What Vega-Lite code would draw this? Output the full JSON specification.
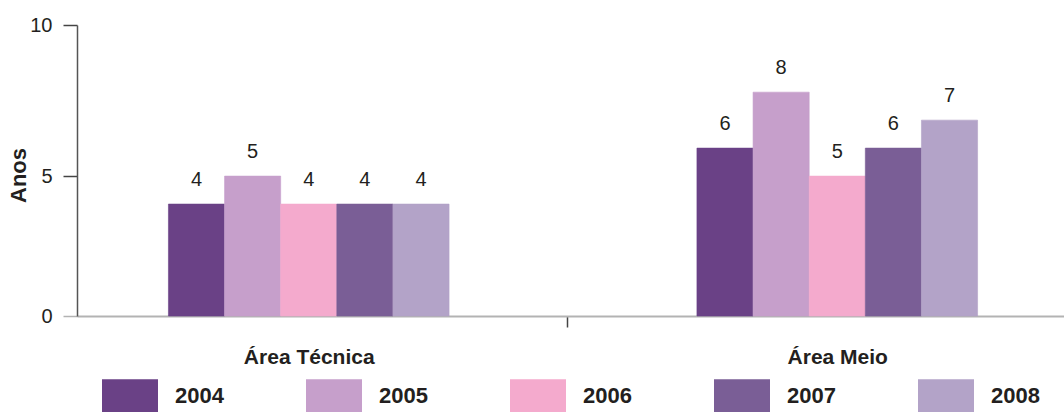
{
  "$schema": "https://vega.github.io/schema/vega-lite/v6.json",
  "width": 992,
  "height": 291,
  "autosize": {"type": "none"},
  "padding": {"left": 77, "top": 25, "right": 0, "bottom": 96},
  "background": "white",
  "config": {
    "view": {"stroke": null},
    "font": "Liberation Sans",
    "text": {"font": "Liberation Sans"}
  },
  "data": {
    "values": [
      {"area": "Área Técnica", "ano": "2004", "anos": 4},
      {"area": "Área Técnica", "ano": "2005", "anos": 5},
      {"area": "Área Técnica", "ano": "2006", "anos": 4},
      {"area": "Área Técnica", "ano": "2007", "anos": 4},
      {"area": "Área Técnica", "ano": "2008", "anos": 4},
      {"area": "Área Meio", "ano": "2004", "anos": 6},
      {"area": "Área Meio", "ano": "2005", "anos": 8},
      {"area": "Área Meio", "ano": "2006", "anos": 5},
      {"area": "Área Meio", "ano": "2007", "anos": 6},
      {"area": "Área Meio", "ano": "2008", "anos": 7}
    ]
  },
  "encoding": {
    "x": {
      "field": "area",
      "type": "nominal",
      "sort": ["Área Técnica", "Área Meio"],
      "scale": {"paddingInner": 0.469, "paddingOuter": 0.173},
      "axis": {
        "title": null,
        "labelAngle": 0,
        "labelFont": "Liberation Sans",
        "labelFontSize": 21,
        "labelFontWeight": "bold",
        "labelColor": "#231f20",
        "labelBaseline": "alphabetic",
        "labelPadding": 36,
        "bandPosition": 0.5,
        "tickOffset": -270,
        "labelOffset": 270,
        "tickSize": 11,
        "tickColor": {"condition": {"test": "datum.value === 'Área Técnica'", "value": "rgba(0,0,0,0)"}, "value": "#444444"},
        "tickWidth": 1.5,
        "domainColor": "#b3b3b3",
        "domainWidth": 2
      }
    },
    "xOffset": {
      "field": "ano",
      "type": "nominal",
      "scale": {"paddingInner": 0, "paddingOuter": 0}
    },
    "y": {
      "field": "anos",
      "type": "quantitative",
      "scale": {"domain": [0, 10.4], "nice": false},
      "axis": {
        "title": "Anos",
        "titleFont": "Liberation Sans",
        "titleFontSize": 22,
        "titleFontWeight": "bold",
        "titleColor": "#231f20",
        "titleAngle": -90,
        "titleBaseline": "middle",
        "titleAlign": "center",
        "titleX": -59,
        "titleY": 150,
        "values": [0, 5, 10.4],
        "labelExpr": "datum.value > 10 ? '10' : datum.label",
        "grid": false,
        "labelFont": "Liberation Sans",
        "labelFontSize": 20,
        "labelColor": "#231f20",
        "labelPadding": 11,
        "tickSize": 14,
        "tickColor": {"condition": {"test": "datum.value === 0", "value": "#b3b3b3"}, "value": "#444444"},
        "tickWidth": 1.5,
        "domainColor": "#555555",
        "domainWidth": 1.5
      }
    }
  },
  "layer": [
    {
      "mark": {"type": "bar", "strokeWidth": 0.6},
      "encoding": {
        "color": {
          "field": "ano",
          "type": "nominal",
          "scale": {
            "domain": ["2004", "2005", "2006", "2007", "2008"],
            "range": ["#6a4186", "#c69fcb", "#f4aacd", "#7a5e96", "#b3a3c8"]
          },
          "legend": {
            "title": null,
            "orient": "none",
            "direction": "horizontal",
            "columns": 5,
            "legendX": 25,
            "legendY": 342.5,
            "padding": 0,
            "symbolType": "M-1,-0.589H1V0.589H-1Z",
            "symbolSize": 3136,
            "symbolStrokeWidth": 0,
            "symbolOpacity": 1,
            "labelFont": "Liberation Sans",
            "labelFontSize": 22,
            "labelFontWeight": "bold",
            "labelColor": "#231f20",
            "labelOffset": 17,
            "columnPadding": 82
          }
        },
        "stroke": {
          "field": "ano",
          "type": "nominal",
          "scale": {
            "domain": ["2004", "2005", "2006", "2007", "2008"],
            "range": ["#6a4186", "#c69fcb", "#f4aacd", "#7a5e96", "#b3a3c8"]
          },
          "legend": null
        }
      }
    },
    {
      "mark": {"type": "text", "baseline": "alphabetic", "dy": -18, "fontSize": 20, "color": "#231f20", "font": "Liberation Sans"},
      "encoding": {
        "text": {"field": "anos", "type": "quantitative", "format": "d"}
      }
    }
  ]
}
